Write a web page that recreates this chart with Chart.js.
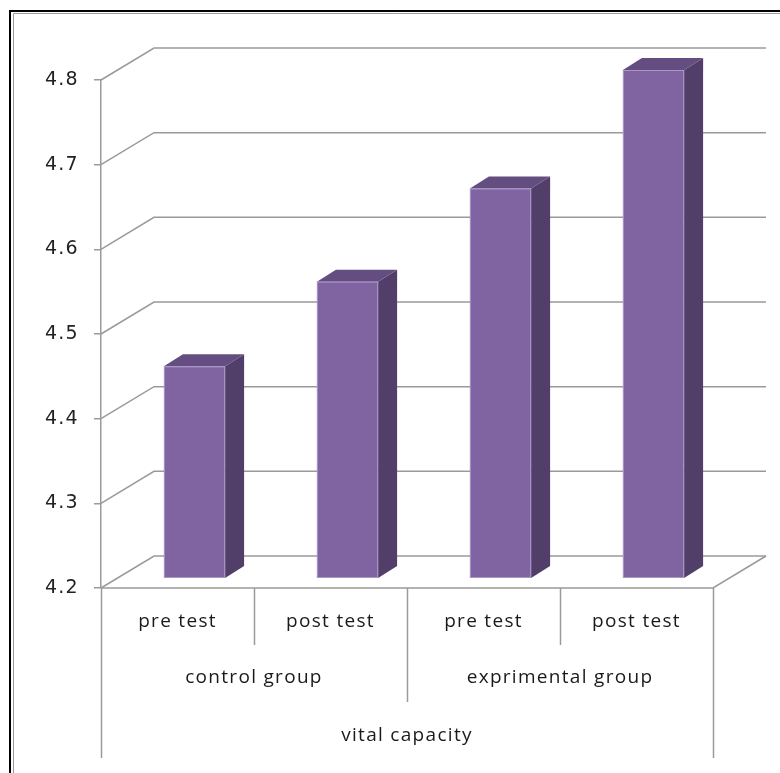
<!DOCTYPE html>
<html>
<head>
<meta charset="utf-8">
<script src="https://cdn.jsdelivr.net/npm/chart.js@4.4.0/dist/chart.umd.min.js"></script>
<style>
  html, body { margin: 0; padding: 0; background: #fff; }
  #wrap { width: 780px; height: 773px; }
</style>
</head>
<body>
<div id="wrap"><canvas id="vc" width="780" height="773"></canvas></div>
<script>
/* 3D-style column chart: vital capacity, pre/post test per group. */

const testLabels  = ['pre test', 'post test', 'pre test', 'post test'];
const groupLabels = ['control group', 'exprimental group'];
const outerLabel  = 'vital capacity';
const vitalCapacity = [4.45, 4.55, 4.66, 4.80];
const yMin = 4.2, yMax = 4.8, yStep = 0.1;

// depth offsets (px) for the fake 3D look
const WALL_DX = 53, WALL_DY = -32;   // back wall
const BAR_DX = 17,  BAR_DY = -10;    // front face of the bars
const SIDE_DX = 19, SIDE_DY = -12;   // bar depth
const GRID = '#9a9a9a';
const LABEL_FONT = '19px "Open Sans", Lato, sans-serif';

function line(ctx, pts) {
  ctx.beginPath();
  ctx.moveTo(pts[0][0], pts[0][1]);
  for (let i = 1; i < pts.length; i++) ctx.lineTo(pts[i][0], pts[i][1]);
  ctx.stroke();
}

const frame3d = {
  id: 'frame3d',
  beforeDraw(chart) {
    const ctx = chart.ctx;
    ctx.save();
    // outer border (double line, runs off the right/bottom edge)
    ctx.strokeStyle = '#000'; ctx.lineWidth = 2;
    line(ctx, [[10, 900], [10, 11], [900, 11]]);
    ctx.strokeStyle = '#9a9a9a'; ctx.lineWidth = 1;
    line(ctx, [[13.5, 900], [13.5, 13.5], [900, 13.5]]);
    ctx.restore();
    // the original labels are a bit wider than Open Sans
    ctx.letterSpacing = '1.3px';
  },
  beforeDatasetsDraw(chart) {
    const ctx = chart.ctx, a = chart.chartArea, ys = chart.scales.y;
    ctx.save();
    ctx.strokeStyle = GRID; ctx.lineWidth = 1.5;
    ys.ticks.forEach(t => {
      const y = ys.getPixelForValue(t.value);
      line(ctx, [[a.left, y], [a.left + WALL_DX, y + WALL_DY], [a.right + WALL_DX, y + WALL_DY]]);
    });
    // floor
    line(ctx, [[a.left, a.bottom], [a.right, a.bottom], [a.right + WALL_DX, a.bottom + WALL_DY]]);
    ctx.restore();
  },
  afterDatasetsDraw(chart) {
    const ctx = chart.ctx, a = chart.chartArea, xs = chart.scales.x, ys = chart.scales.y;
    const meta = chart.getDatasetMeta(0);
    const basePx = ys.getPixelForValue(yMin);
    ctx.save();
    meta.data.forEach(bar => {
      const x0 = bar.x - bar.width / 2 + BAR_DX, x1 = bar.x + bar.width / 2 + BAR_DX;
      const yt = bar.y + BAR_DY, yb = basePx + BAR_DY;
      // side
      ctx.fillStyle = '#523f69';
      ctx.beginPath();
      ctx.moveTo(x1, yt); ctx.lineTo(x1 + SIDE_DX, yt + SIDE_DY);
      ctx.lineTo(x1 + SIDE_DX, yb + SIDE_DY); ctx.lineTo(x1, yb); ctx.closePath(); ctx.fill();
      // top
      ctx.fillStyle = '#644d80';
      ctx.beginPath();
      ctx.moveTo(x0, yt); ctx.lineTo(x0 + SIDE_DX, yt + SIDE_DY);
      ctx.lineTo(x1 + SIDE_DX, yt + SIDE_DY); ctx.lineTo(x1, yt); ctx.closePath(); ctx.fill();
      // front
      ctx.fillStyle = '#8064a2';
      ctx.fillRect(x0, yt, x1 - x0, yb - yt);
      ctx.strokeStyle = 'rgba(190,170,215,0.7)'; ctx.lineWidth = 1;
      ctx.strokeRect(x0 + 0.5, yt + 0.5, x1 - x0 - 1, yb - yt - 1);
    });

    // category table under the floor
    const n = testLabels.length;
    const edge = i => i === 0 ? a.left : i === n ? a.right
      : (xs.getPixelForValue(i - 1) + xs.getPixelForValue(i)) / 2;
    ctx.strokeStyle = GRID; ctx.lineWidth = 1.5;
    for (let i = 0; i <= n; i++) {
      const x = Math.round(edge(i)) + 0.5;
      const depth = (i === 0 || i === n) ? 170 : (i === n / 2 ? 114 : 57);
      line(ctx, [[x, a.bottom], [x, a.bottom + depth]]);
    }
    ctx.fillStyle = '#1a1a1a';
    ctx.font = LABEL_FONT;
    ctx.textAlign = 'center'; ctx.textBaseline = 'middle';
    groupLabels.forEach((g, gi) => {
      const cx = (edge(gi * 2) + edge(gi * 2 + 2)) / 2;
      ctx.fillText(g, cx, a.bottom + 90);
    });
    ctx.fillText(outerLabel, (a.left + a.right) / 2, a.bottom + 148);
    ctx.restore();
  }
};

new Chart(document.getElementById('vc'), {
  type: 'bar',
  data: {
    labels: testLabels,
    datasets: [{
      label: outerLabel,
      data: vitalCapacity,
      backgroundColor: 'rgba(0,0,0,0)',
      borderWidth: 0,
      categoryPercentage: 0.8,
      barPercentage: 0.5
    }]
  },
  options: {
    responsive: false,
    animation: false,
    events: [],
    layout: { padding: { top: 80, right: 67, bottom: 0, left: 0 } },
    plugins: { legend: { display: false }, tooltip: { enabled: false } },
    scales: {
      y: {
        min: yMin, max: yMax,
        afterFit: s => { s.width = 101; },
        ticks: { stepSize: yStep, padding: 15, color: '#222',
          font: { family: '"DejaVu Sans", Verdana, sans-serif', size: 19 },
          callback: v => v.toFixed(1) },
        grid: { drawOnChartArea: false, tickLength: 7, color: GRID, lineWidth: 1.5 },
        border: { display: true, color: GRID, width: 1.5 }
      },
      x: {
        afterFit: s => { s.height = 185; },
        ticks: { padding: 22, color: '#1a1a1a', font: { family: '"Open Sans", Lato, sans-serif', size: 19 } },
        grid: { display: false, drawTicks: false },
        border: { display: false }
      }
    }
  },
  plugins: [frame3d]
});
</script>
</body>
</html>
